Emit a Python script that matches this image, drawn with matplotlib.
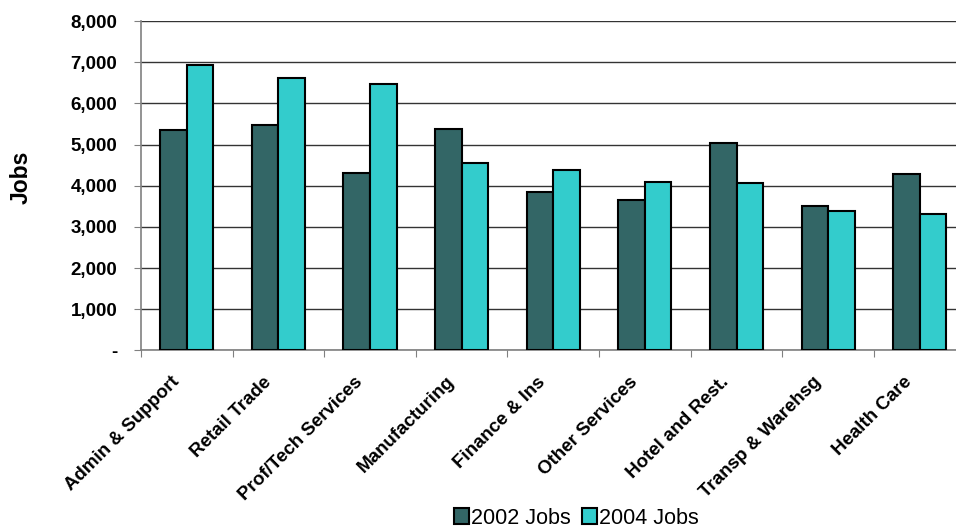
import matplotlib.pyplot as plt
import numpy as np
from matplotlib.ticker import FuncFormatter, FixedLocator
import matplotlib.transforms as mtransforms

plt.rcParams['font.family'] = ['Liberation Sans', 'DejaVu Sans']

kategorier = ["Admin & Support", "Retail Trade", "Prof/Tech Services", "Manufacturing",
              "Finance & Ins", "Other Services", "Hotel and Rest.", "Transp & Warehsg",
              "Health Care"]
jobs_2002 = [5350, 5480, 4300, 5370, 3840, 3650, 5050, 3510, 4290]
jobs_2004 = [6930, 6620, 6480, 4560, 4380, 4080, 4060, 3390, 3310]

fig = plt.figure(figsize=(9.56, 5.27), dpi=100)
ax = fig.add_axes([0.1475, 0.335, 0.8625, 0.625])

x = np.arange(len(kategorier)) + 0.5
b = 0.29
ax.bar(x - b/2, jobs_2002, b, color="#336666", edgecolor="black", linewidth=1.5,
       label="2002 Jobs", zorder=3)
ax.bar(x + b/2, jobs_2004, b, color="#33CCCC", edgecolor="black", linewidth=1.5,
       label="2004 Jobs", zorder=3)

ax.set_xlim(0, len(kategorier))
ax.set_ylim(0, 8000)
ax.set_yticks(np.arange(0, 8001, 1000))
ax.yaxis.set_major_formatter(FuncFormatter(lambda v, p: "-" if v == 0 else f"{v:,.0f}"))
ax.grid(axis="y", color="#333333", linewidth=1, zorder=0)

# ticks ved kategorigrensene, etiketter i midten
ax.xaxis.set_major_locator(FixedLocator(np.arange(0, len(kategorier) + 1)))
ax.xaxis.set_major_formatter(FuncFormatter(lambda v, p: ""))
ax.xaxis.set_minor_locator(FixedLocator(x))
ax.set_xticklabels(kategorier, minor=True, rotation=45, ha="right", va="top",
                   rotation_mode="anchor", fontsize=13.5, fontweight="bold")
ax.tick_params(axis="x", which="major", length=5, color="#808080", direction="out")
ax.tick_params(axis="x", which="minor", length=0, pad=16.5)
offset = mtransforms.ScaledTranslation(-16/100, 0, fig.dpi_scale_trans)
for lab in ax.get_xticklabels(minor=True):
    lab.set_transform(lab.get_transform() + offset)

ax.tick_params(axis="y", length=5, color="#808080", pad=12, labelsize=13.5)
for lab in ax.get_yticklabels():
    lab.set_fontweight("bold")

for s in ["top", "right"]:
    ax.spines[s].set_visible(False)
for s in ["left", "bottom"]:
    ax.spines[s].set_color("#808080")
    ax.spines[s].set_linewidth(1.2)

ax.set_ylabel("Jobs", fontsize=16.5, fontweight="bold")
ax.yaxis.set_label_coords(-0.131, 0.525)

fig.legend(loc="center", bbox_to_anchor=(0.603, 0.017), ncol=2, frameon=False,
           fontsize=15.5, handlelength=0.7, handleheight=0.7, handletextpad=0.1,
           columnspacing=0.5)

fig.savefig("out.png", dpi=100)
